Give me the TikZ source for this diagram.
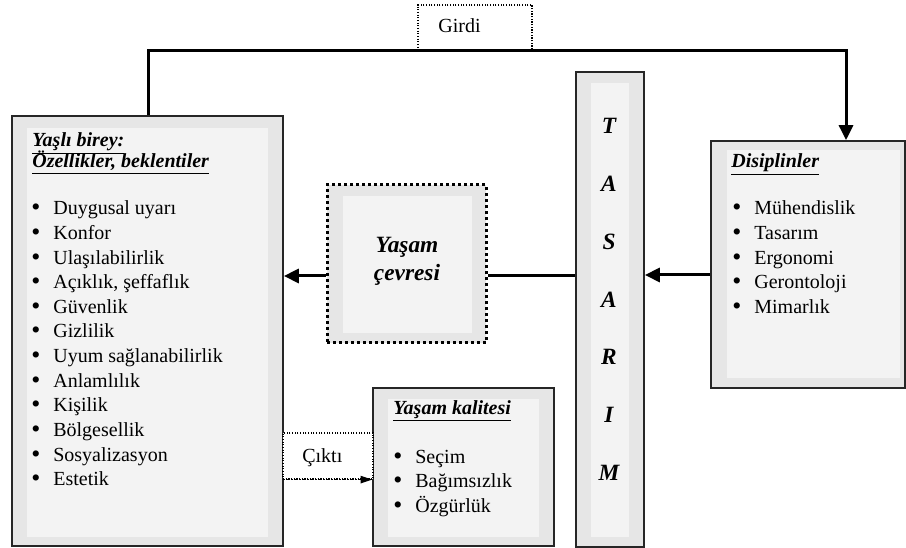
\documentclass[tikz,border=0pt]{standalone}
\usepackage{fontspec}
\setmainfont{Liberation Serif}
\usetikzlibrary{arrows.meta,fit}

\definecolor{boxout}{HTML}{E6E6E6}
\definecolor{boxin}{HTML}{F3F3F3}
\newcommand{\blt}[1]{\makebox[13.2pt][l]{\raisebox{-0.6pt}{\fontsize{15.5}{14}\selectfont\textbullet}}#1}

\begin{document}
\begin{tikzpicture}[x=0.6pt,y=-0.6pt,
    outerbox/.style={draw=black!85,line width=1pt,fill=boxout,inner sep=0pt},
    innerbox/.style={fill=boxin,inner sep=0pt},
    dotbox/.style={draw,line width=0.7pt,dash pattern=on 0.7pt off 0.9pt,fill=white,inner sep=0pt},
    head/.style={anchor=base west,inner sep=0pt,font=\fontsize{12}{14}\selectfont\bfseries\itshape},
    item/.style={anchor=base west,inner sep=0pt,font=\fontsize{12}{14}\selectfont},
    letter/.style={font=\fontsize{14}{16}\selectfont\bfseries\itshape},
    link/.style={line width=1.8pt},
    >={Triangle[length=9pt,width=8.4pt]}]
    \useasboundingbox (0,0) rectangle (906,548);

    % Elderly person: panel, heading, list
    \node[outerbox,fit={(12,116) (283,546)}] (birey) {};
    \node[innerbox,fit={(27,128) (268,537)}] (bireyIc) {};
    \node[head] (bireyH1) at (32,147) {\underline{Yaşlı birey:}};
    \node[head] (bireyH2) at (32,168) {\underline{Özellikler, beklentiler}};
    \foreach \t [count=\i] in {Duygusal uyarı,Konfor,Ulaşılabilirlik,{Açıklık, şeffaflık},Güvenlik,Gizlilik,Uyum sağlanabilirlik,Anlamlılık,Kişilik,Bölgesellik,Sosyalizasyon,Estetik}
        \node[item] (bireyM\i) at (31,{215+24.6*(\i-1)}) {\blt{\t}};

    % Disciplines
    \node[outerbox,fit={(711,141) (905,388)}] (disiplin) {};
    \node[innerbox,fit={(727,150) (900,378)}] (disiplinIc) {};
    \node[head] (disiplinH) at (731,168) {\underline{Disiplinler}};
    \foreach \t [count=\i] in {Mühendislik,Tasarım,Ergonomi,Gerontoloji,Mimarlık}
        \node[item] (disiplinM\i) at (732,{215+24.6*(\i-1)}) {\blt{\t}};

    % Design column
    \node[outerbox,fit={(576,72) (644,547)}] (tasarim) {};
    \node[innerbox,fit={(591,83) (629,537)}] (tasarimIc) {};
    \foreach \h [count=\i] in {T,A,S,A,R,I,M}
        \node[letter] (tasarimL\i) at (609,{126+57.8*(\i-1)}) {\h};

    % Living environment
    \node[outerbox,draw=black,line width=1.8pt,dash pattern=on 1.8pt off 1.8pt,fit={(327,185) (486,343)}] (cevre) {};
    \node[innerbox,fit={(343,196) (472,333)}] (cevreIc) {};
    \node[letter,font=\fontsize{14}{16.8}\selectfont\bfseries\itshape,align=center] (cevreT) at (407,261) {Yaşam\\çevresi};

    % Quality of life
    \node[outerbox,fit={(373,388) (554,546)}] (kalite) {};
    \node[innerbox,fit={(388,399) (539,537)}] (kaliteIc) {};
    \node[head] (kaliteH) at (393,414) {\underline{Yaşam kalitesi}};
    \foreach \t [count=\i] in {Seçim,Bağımsızlık,Özgürlük}
        \node[item] (kaliteM\i) at (393,{463+24.6*(\i-1)}) {\blt{\t}};

    % Input / output labels
    \node[dotbox,fit={(418,5) (532,50)}] (girdi) {};
    \node[item] (girdiT) at (438,33) {Girdi};
    \node[dotbox,fit={(283,433) (373,479)}] (cikti) {};
    \node[item] (ciktiT) at (302,462) {Çıktı};

    % Connectors
    \draw[link,->] (birey.north -| 148,0) |- (girdi.south) -| (disiplin.north -| 846,0);
    \draw[link,->] (disiplin.west |- 0,275) -- (tasarim.east |- 0,275);
    \draw[link] (tasarim.west |- 0,276) -- (cevre.east |- 0,276);
    \draw[link,->] (cevre.west |- 0,276) -- (birey.east |- 0,276);
    \draw[line width=0.7pt,dash pattern=on 0.7pt off 0.9pt,-{Triangle[length=7pt,width=4.5pt]}] (birey.east |- cikti.south) -- (kalite.west |- cikti.south);
\end{tikzpicture}
\end{document}
